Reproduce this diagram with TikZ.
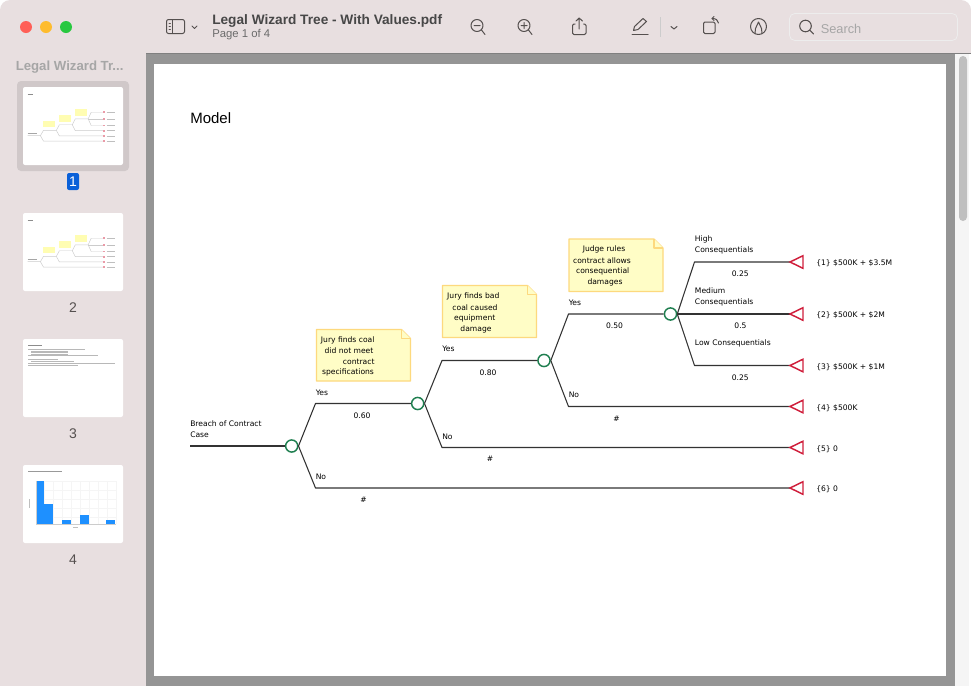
\documentclass[tikz,border=0pt]{standalone}
\usepackage{fontspec}
\setmainfont{Liberation Sans}
\newfontfamily\lab{DejaVu Sans}
\newcommand{\fs}[1]{\fontsize{#1}{#1}\selectfont}
\definecolor{winbg}{HTML}{E8DFE0}
\definecolor{greybg}{HTML}{959595}
\definecolor{selbox}{HTML}{D0C8C9}
\definecolor{icon}{HTML}{55504F}
\definecolor{notefill}{HTML}{FFFDC6}
\definecolor{noteline}{HTML}{FDD97E}
\definecolor{chance}{HTML}{1F7F50}
\definecolor{term}{HTML}{D01F3C}
\definecolor{linec}{HTML}{333333}
\definecolor{barblue}{HTML}{1E90FF}
\definecolor{tlred}{HTML}{FF5F57}
\definecolor{tlyellow}{HTML}{FEBC2E}
\definecolor{tlgreen}{HTML}{28C840}
\definecolor{badge}{HTML}{0A60D8}
\tikzset{
 txt/.style={font=\lab\fontsize{5.7pt}{8.25pt}\selectfont,text=black,inner sep=0pt,align=center,yshift=-0.5pt},
 ltxt/.style={txt,align=left,anchor=west},
 chancenode/.style={circle,draw=chance,fill=white,line width=1.1pt,minimum size=9.1pt,inner sep=0pt},
 branch/.style={draw=linec,line width=0.8pt,line join=round},
 termtri/.style={draw=term,fill=white,line width=1.1pt,line join=miter},
 notebox/.style={draw=noteline,fill=notefill,line width=0.8pt,line join=round},
 icn/.style={draw=icon,line width=0.75pt,line cap=round,line join=round},
 thumb/.style={fill=white,rounded corners=1.5pt,draw=none},
 mini/.style={draw=black!20,line width=0.35pt},
 minibox/.style={fill=notefill!90!yellow,draw=none},
 minired/.style={fill=term!45,draw=none},
 thumbnum/.style={font=\fs{10.5pt},text=icon,inner sep=0pt},
}
\newcommand{\minitree}{%
 \draw[mini] (190,446)--(292,446)--(316,404)--(418,404)--(442,360)--(544,360)--(568,314)--(670,314)--(694,262)--(790,262);
 \draw[mini] (670,314)--(790,314);
 \draw[mini] (670,314)--(694,366)--(790,366);
 \draw[mini] (544,360)--(568,406)--(790,406);
 \draw[mini] (418,404)--(442,448)--(790,448);
 \draw[mini] (292,446)--(316,488)--(790,488);
 \fill[minibox] (316,330) rectangle (410,381);
 \fill[minibox] (442,285) rectangle (537,338);
 \fill[minibox] (569,239) rectangle (663,292);
 \foreach \yy in {262,314,366,406,448,488}{\fill[minired] (790,\yy-7) rectangle (803,\yy+7);
   \draw[black!25,line width=.3pt] (816,\yy)--(880,\yy);}
 \draw[black!45,line width=.35pt] (190,118)--(230,118);
 \draw[black!35,line width=.35pt] (190,428)--(262,428);
}
\begin{document}
\begin{tikzpicture}[x=0.75pt,y=-0.75pt]
\useasboundingbox (0,0) rectangle (971,686);
\fill[white] (0,0) rectangle (971,686);
\fill[winbg,rounded corners=7.5pt] (0,0) rectangle (971,30);
\fill[winbg] (0,15) rectangle (971,53);
\fill[winbg] (0,53) rectangle (146,686);
\fill[greybg] (146,53) rectangle (955,686);
\fill[black!50] (146,53) rectangle (971,54);
\fill[white!96!black] (955,54) rectangle (969,686);
\fill[black!25,rounded corners=3pt] (959,56) rectangle (967,221);
% page
\node[fill=white,inner sep=0pt,minimum width=594pt,minimum height=459pt,anchor=north west] (page) at (154,64) {};
% traffic lights
\fill[tlred] (26,27) circle (6);
\fill[tlyellow] (46,27) circle (6);
\fill[tlgreen] (66,27) circle (6);
% sidebar icon
\draw[icn,rounded corners=1.5pt] (166.5,19.5) rectangle (184.5,33.5);
\draw[icn] (172.5,19.5)--(172.5,33.5);
\draw[icn,line width=.6pt] (169,23)--(170.5,23) (169,26)--(170.5,26) (169,29)--(170.5,29);
\draw[icn] (192,26)--(194.5,28.5)--(197,26);
% titles
\node[font=\bfseries\fs{10.25pt},text=black!72,inner sep=0pt,anchor=west] (title) at (212,20.5) {Legal Wizard Tree - With Values.pdf};
\node[font=\fs{8.5pt},text=black!58,inner sep=0pt,anchor=west] (pageof) at (212,35) {Page 1 of 4};
\node[font=\bfseries\fs{9.9pt},text=black!35,inner sep=0pt,anchor=west] (sidetitle) at (15.5,67.5) {Legal Wizard Tr...};
% zoom out
\draw[icn] (477,25.5) circle (6) (481.5,30)--(485,34.5) (474,25.5)--(480,25.5);
% zoom in
\draw[icn] (524,25.5) circle (6) (528.5,30)--(532,34.5) (521,25.5)--(527,25.5) (524,22.5)--(524,28.5);
% share
\draw[icn,rounded corners=1pt] (575,24)--(572.5,24)--(572.5,34.5)--(586,34.5)--(586,24)--(583.5,24);
\draw[icn] (579.2,29)--(579.2,18) (576,21)--(579.2,18)--(582.4,21);
% pen
\draw[icn] (632,34)--(648,34);
\draw[icn] (633.5,30.5)--(634.5,26.5)--(643,18.5)--(646.5,21.5)--(638,29.5)--cycle;
\draw[black!20,line width=.5pt] (660.5,17)--(660.5,36.5);
\draw[icn] (671,26.5)--(674,29)--(677,26.5);
% rotate
\draw[icn,rounded corners=1pt] (703.5,22)rectangle(715,33.5);
\draw[icn] (712,18.5) .. controls (716,18.5) and (718,20) .. (718.5,23);
\draw[icn] (714,16.5)--(712,18.5)--(714,20.5);
% markup
\draw[icn] (758.5,26.5) circle (8);
\draw[icn] (755,33.5)--(755.5,28.5)--(758.5,22)--(761.5,28.5)--(762,33.5);
% search
\draw[draw=black!7,fill=winbg,line width=.6pt,rounded corners=4pt] (789.5,13.5) rectangle (957.5,40.5);
\draw[icn,line width=.8pt] (805.5,26) circle (5.8) (810,30.5)--(813.5,34);
\node[font=\fs{9.6pt},text=black!35,inner sep=0pt,anchor=west] (search) at (820.5,28.5) {Search};
% thumbnails
\fill[selbox,rounded corners=3pt] (17,81) rectangle (129,171);
\fill[thumb] (23,87) rectangle (123,165);
\begin{scope}[shift={(23,87)},xscale=.1263,yscale=.1275,shift={(-154,-64)}]\minitree\end{scope}
\fill[badge,rounded corners=1.5pt] (67,173) rectangle (79,190);
\node[font=\fs{10.5pt},text=white,inner sep=0pt] (n1) at (73,181.5) {1};
\fill[thumb] (23,213) rectangle (123,291);
\begin{scope}[shift={(23,213)},xscale=.1263,yscale=.1275,shift={(-154,-64)}]\minitree\end{scope}
\node[thumbnum] (n2) at (73,307.5) {2};
\fill[thumb] (23,339) rectangle (123,417);
\draw[black!45,line width=.5pt] (28,345.5)--(42,345.5);
\foreach \yy/\xa/\xb in {349.5/28/85,351/31/68,352.5/31/68,354/31/68,355.5/28/98,359.5/28/58,361/31/74,363/28/115,365/28/78}{\draw[black!28,line width=.4pt] (\xa,\yy)--(\xb,\yy);}
\node[thumbnum] (n3) at (73,433.5) {3};
\fill[thumb] (23,465) rectangle (123,543);
\draw[black!40,line width=.5pt] (28,471.5)--(62,471.5);
\foreach \xx in {44,53,62,71,80,89,98,107,116}{\draw[black!4,line width=.2pt] (\xx,481)--(\xx,524.4);}
\foreach \yy in {481,490,499,508,517}{\draw[black!4,line width=.2pt] (35.7,\yy)--(116,\yy);}
\fill[barblue] (35.7,481.3) rectangle (44,524.3);
\fill[barblue] (44.3,504.3) rectangle (53,524.3);
\fill[barblue] (62,520) rectangle (71,524.3);
\fill[barblue] (79.7,514.8) rectangle (88.7,524.3);
\fill[barblue] (106.3,520) rectangle (115.3,524.3);
\draw[black!20,line width=.2pt] (35.7,481)--(35.7,524.3)--(115.5,524.3);
\draw[black!25,line width=.4pt] (29.5,499)--(29.5,508);
\draw[black!25,line width=.4pt] (73,527.5)--(78,527.5);
\node[thumbnum] (n4) at (73,559.5) {4};
% Model heading
\node[font=\fs{11.25pt},text=black,inner sep=0pt,anchor=west] (model) at (190,118) {Model};
% notes
\draw[notebox] (316.5,329.5)--(401.5,329.5)--(410.5,338.5)--(410.5,381)--(316.5,381)--cycle;
\draw[notebox] (401.5,329.5)--(401.5,338.5)--(410.5,338.5);
\draw[notebox] (442.5,285.5)--(527.5,285.5)--(536.5,294.5)--(536.5,337.5)--(442.5,337.5)--cycle;
\draw[notebox] (527.5,285.5)--(527.5,294.5)--(536.5,294.5);
\draw[notebox] (569,239)--(654,239)--(663,248)--(663,291.5)--(569,291.5)--cycle;
\draw[notebox] (654,239)--(654,248)--(663,248);
\node[txt] (na1) at (347.7,339.5) {Jury finds coal};
\node[txt] (na2) at (349,350) {did not meet};
\node[txt] (na3) at (358.7,361) {contract};
\node[txt] (na4) at (348,372) {specifications};
\node[txt] (nb1) at (473.3,295.5) {Jury finds bad};
\node[txt] (nb2) at (475,306.5) {coal caused};
\node[txt] (nb3) at (474.8,317.5) {equipment};
\node[txt] (nb4) at (476,328.5) {damage};
\node[txt] (nc1) at (604,249) {Judge rules};
\node[txt] (nc2) at (602,259.5) {contract allows};
\node[txt] (nc3) at (602.7,270.5) {consequential};
\node[txt] (nc4) at (605,281.5) {damages};
% tree nodes
\coordinate (root) at (190,446);
\node[chancenode] (c1) at (291.7,446) {};
\node[chancenode] (c2) at (417.7,403.5) {};
\node[chancenode] (c3) at (544,360.5) {};
\node[chancenode] (c4) at (670.5,314) {};
\coordinate (e1y) at (315.5,403.5);
\coordinate (e1n) at (315.5,488);
\coordinate (e2y) at (442,360.5);
\coordinate (e2n) at (442,447.5);
\coordinate (e3y) at (568.5,314);
\coordinate (e3n) at (568.5,406.5);
\coordinate (e4h) at (694.5,262);
\coordinate (e4l) at (694.5,365.5);
\coordinate (t1) at (790,262);
\coordinate (t2) at (790,314);
\coordinate (t3) at (790,365.5);
\coordinate (t4) at (790,406.5);
\coordinate (t5) at (790,447.5);
\coordinate (t6) at (790,488);
\draw[branch] (root)--(c1);
\draw[branch] (c1.east)--(e1y)--(c2.west);
\draw[branch] (c1.east)--(e1n)--(t6);
\draw[branch] (c2.east)--(e2y)--(c3.west);
\draw[branch] (c2.east)--(e2n)--(t5);
\draw[branch] (c3.east)--(e3y)--(c4.west);
\draw[branch] (c3.east)--(e3n)--(t4);
\draw[branch] (c4.east)--(e4h)--(t1);
\draw[branch] (c4.east)--(t2);
\draw[branch] (c4.east)--(e4l)--(t3);
\foreach \t in {t1,t2,t3,t4,t5,t6}{\draw[termtri] (\t)--++(13,-6.3)--++(0,12.6)--cycle;}
% labels
\node[ltxt] (lroot) at (190,428.5) {Breach of Contract\\Case};
\node[ltxt] (y1) at (315.5,392) {Yes};
\node[ltxt] (no1) at (315.5,476) {No};
\node[txt] (p1) at (362,415) {0.60};
\node[txt] (h1) at (363.5,499.5) {\#};
\node[ltxt] (y2) at (442,348) {Yes};
\node[ltxt] (no2) at (442,436) {No};
\node[txt] (p2) at (488,372) {0.80};
\node[txt] (h2) at (490,458) {\#};
\node[ltxt] (y3) at (568.5,302) {Yes};
\node[ltxt] (no3) at (568.5,394) {No};
\node[txt] (p3) at (614.5,325) {0.50};
\node[txt] (h3) at (616.5,418) {\#};
\node[ltxt] (hi) at (694.7,244.5) {High\\Consequentials};
\node[ltxt] (me) at (694.7,296) {Medium\\Consequentials};
\node[ltxt] (lo) at (694.7,343) {Low Consequentials};
\node[txt] (p4) at (740.3,273) {0.25};
\node[txt] (p5) at (740.5,325.3) {0.5};
\node[txt] (p6) at (740.3,377) {0.25};
\node[ltxt] (v1) at (816,262.5) {\{1\} \$500K + \$3.5M};
\node[ltxt] (v2) at (816,315) {\{2\} \$500K + \$2M};
\node[ltxt] (v3) at (816,366.5) {\{3\} \$500K + \$1M};
\node[ltxt] (v4) at (816,407.5) {\{4\} \$500K};
\node[ltxt] (v5) at (816,448.5) {\{5\} 0};
\node[ltxt] (v6) at (816,488.5) {\{6\} 0};
\end{tikzpicture}
\end{document}
